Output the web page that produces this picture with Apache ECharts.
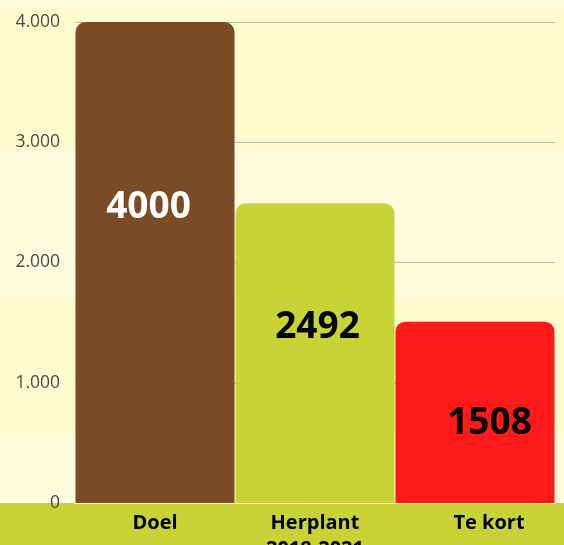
<!DOCTYPE html>
<html>
<head>
<meta charset="utf-8">
<script src="https://cdn.jsdelivr.net/npm/echarts@6/dist/echarts.min.js"></script>
<style>
html,body{margin:0;padding:0;background:#fffbdf;}
#chart{width:564px;height:545px;}
</style>
</head>
<body>
<div id="chart"></div>
<script>
// Data
const categories = ['Doel', 'Herplant\n2018-2021', 'Te kort'];
const values = [4000, 2492, 1508];
const yTicks = [0, 1000, 2000, 3000, 4000];

// Styling (not data)
const barColors = ['#7b4c25', '#c8d336', '#ff1a1a'];
const labelColors = ['#ffffff', '#000000', '#000000'];
const labelPositions = [[73, 185], [82, 124], [94, 102]];

const chart = echarts.init(document.getElementById('chart'));

function fmtThousands(v) {
  return String(v).replace(/\B(?=(\d{3})+(?!\d))/g, '.');
}

const seriesData = values.map((v, i) => ({
  value: v,
  itemStyle: { color: barColors[i] },
  label: {
    show: true,
    position: labelPositions[i],
    align: 'center',
    verticalAlign: 'middle',
    color: labelColors[i],
    fontFamily: 'Open Sans',
    fontWeight: 'bold',
    fontSize: 37
  }
}));

const option = {
  backgroundColor: '#fffbdf',
  animation: false,
  graphic: {
    elements: [
      { type: 'rect', z: -100, silent: true, shape: { x: 0, y: 7, width: 564, height: 143 }, style: { fill: '#fdfccf' } },
      { type: 'rect', z: -100, silent: true, shape: { x: 0, y: 295, width: 564, height: 142 }, style: { fill: '#fdfccf' } },
      { type: 'rect', z: -100, silent: true, shape: { x: 0, y: 503, width: 564, height: 42 }, style: { fill: '#c9d336' } }
    ]
  },
  grid: { left: 75, right: 9, top: 22, bottom: 42, containLabel: false, outerBoundsMode: 'none' },
  xAxis: {
    type: 'category',
    data: categories,
    axisLine: { show: true, lineStyle: { color: '#fffbe6', width: 1 } },
    axisTick: { show: false },
    axisLabel: {
      margin: 7,
      interval: 0,
      color: '#000',
      fontFamily: 'Open Sans',
      fontWeight: 'bold',
      fontSize: 20,
      lineHeight: 26,
      hideOverlap: false,
      formatter: function (v, idx) {
        if (idx === 2) return '{s|' + v + '}';
        return v;
      },
      rich: {
        s: { padding: [0, 0, 0, 28], color: '#000', fontFamily: 'Open Sans', fontWeight: 'bold', fontSize: 20, lineHeight: 26 }
      }
    }
  },
  yAxis: {
    type: 'value',
    min: yTicks[0],
    max: yTicks[yTicks.length - 1],
    interval: 1000,
    axisLine: { show: false },
    axisTick: { show: false },
    splitLine: { show: true, lineStyle: { color: '#bdb99c', width: 1 } },
    axisLabel: {
      margin: 15,
      color: '#4a4a4a',
      fontFamily: 'Open Sans',
      fontSize: 17.5,
      formatter: fmtThousands
    }
  },
  series: [{
    type: 'bar',
    data: seriesData,
    barCategoryGap: '0.6%',
    itemStyle: { borderRadius: [10, 10, 0, 0] }
  }]
};

chart.setOption(option);
</script>
</body>
</html>
